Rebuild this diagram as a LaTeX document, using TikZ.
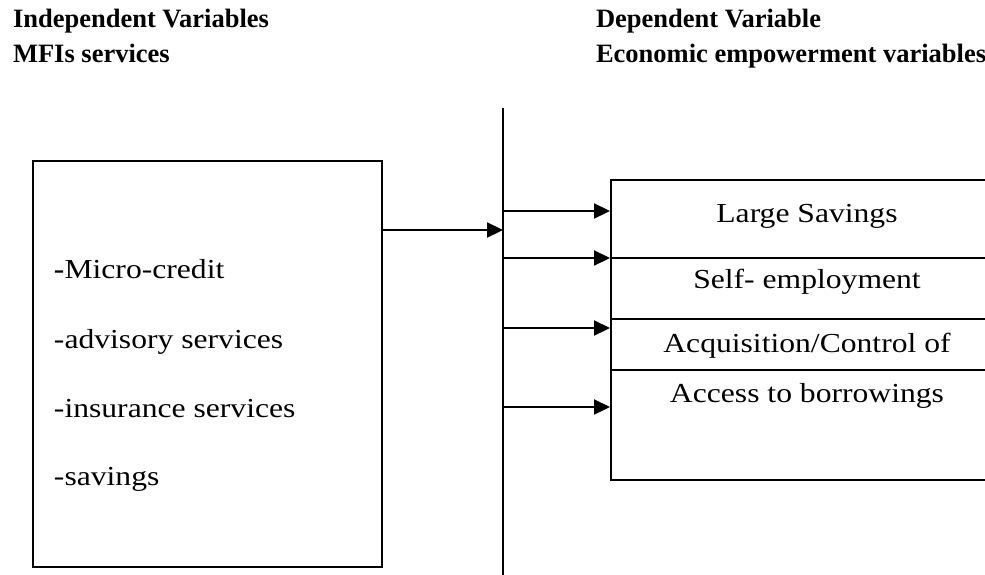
\documentclass[tikz,border=0pt]{standalone}
\usepackage{fontspec}
\setmainfont{Liberation Serif}
\newfontfamily\bodyfont[FakeStretch=1.15]{Liberation Serif}
\usetikzlibrary{arrows.meta,positioning,calc}
\tikzset{
  headtext/.style={anchor=base west, inner sep=0pt, font=\fontsize{13.25}{15}\selectfont\bfseries},
  itemtext/.style={anchor=base west, inner sep=0pt, font=\bodyfont\fontsize{13.75}{16}\selectfont},
  rowtext/.style={anchor=base, inner sep=0pt, font=\bodyfont\fontsize{13.75}{16}\selectfont},
  mfibox/.style={draw, line width=1pt, minimum width=174.5pt, minimum height=203pt, inner sep=0pt},
  rowbox/.style={draw, line width=1pt, minimum width=187.5pt, inner sep=0pt},
  flow/.style={-{Triangle[length=8pt, width=7.5pt]}, line width=1.1pt},
}
\begin{document}
\begin{tikzpicture}[x=0.5pt, y=-0.5pt, line width=1pt]
      \useasboundingbox (0,0) rectangle (985,574);

      %% ---- headings ----
      \node[headtext] (indep) at (12,27) {Independent Variables};
      \node[headtext] (mfis) at (12,62) {MFIs services};
      \node[headtext] (dep) at (595,27) {Dependent Variable};
      \node[headtext] (econ) at (595,62) {Economic empowerment variables};

      %% ---- MFIs services box ----
      \node[mfibox] (mfi) at (207.5,364) {};
      \foreach \i/\yb/\lbl in {1/278/{{\bfseries -}Micro-credit}, 2/348/{-advisory services},
                               3/417/{-insurance services}, 4/485/{-savings}}{
        \node[itemtext] (item\i) at (53,\yb) {\lbl};}

      %% ---- dividing line ----
      \coordinate (spinetop) at (503,108);
      \coordinate (spinebot) at (503,576);
      \draw (spinetop) -- (spinebot);
      \coordinate (into) at (503,230);
      \draw[flow] (mfi.east |- into) -- (into);

      %% ---- empowerment rows ----
      \foreach \i/\yc/\h/\yb/\lbl in {1/219/39/222/{Large Savings}, 2/288.5/30.5/288/{Self- employment},
                                      3/344.5/25.5/352/{Acquisition/Control of}, 4/425/55/402/{Access to borrowings}}{
        \node[rowbox, minimum height=\h pt] (row\i) at (798.5,\yc) {};
        \node[rowtext] (lab\i) at (807,\yb) {\lbl};}

      \foreach \i/\ya in {1/211, 2/258, 3/328, 4/407}{
        \coordinate (src\i) at (503,\ya);
        \draw[flow] (src\i) -- (src\i -| row1.west);}
\end{tikzpicture}
\end{document}
